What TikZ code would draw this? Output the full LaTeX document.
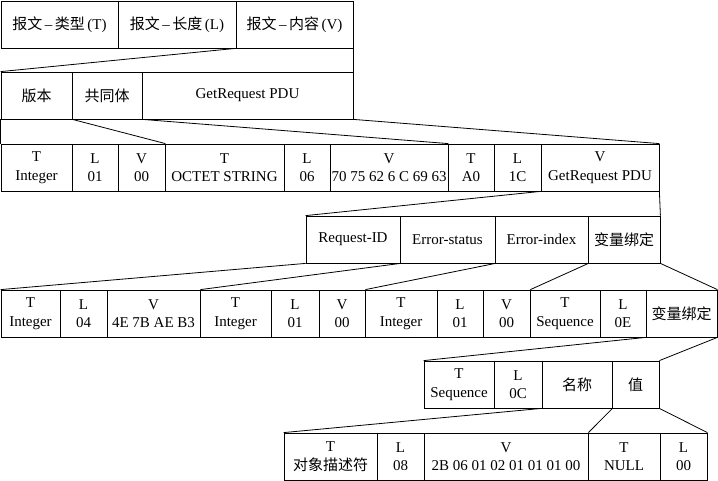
\documentclass[tikz,border=0pt]{standalone}
\usepackage{fontspec}
\setmainfont{Liberation Serif}
\newfontfamily\cjk{Noto Sans CJK SC}
\tikzset{
  cell/.style={draw, rectangle, inner sep=0pt, align=center,
    minimum height=47pt, font=\fontsize{15}{18.5}\selectfont},
  w/.style={minimum width=#1pt}
}
\begin{document}
\begin{tikzpicture}[x=1pt,y=-1pt,line width=0.8pt]
      \useasboundingbox (0,0) rectangle (718,481);
      \path
        (59.5,24.5) node[cell,w=117] (typ){{\cjk 报文}\,--\,{\cjk 类型}\,(T)}
        (177,24.5) node[cell,w=118] (len){{\cjk 报文}\,--\,{\cjk 长度}\,(L)}
        (294.5,24.5) node[cell,w=117] (val){{\cjk 报文}\,--\,{\cjk 内容}\,(V)}
        (36.5,95.5) node[cell,w=71] (ver){\cjk 版本}
        (107,95.5) node[cell,w=70] (com){\cjk 共同体}
        (247.5,95.5) node[cell,w=211] (pdu){GetRequest PDU}
        (36.5,167.5) node[cell,w=71] (t1){T\\Integer}
        (95,167.5) node[cell,w=46] (l1){L\\01}
        (141.5,167.5) node[cell,w=47] (v1){V\\00}
        (224.5,167.5) node[cell,w=119] (t2){T\\OCTET STRING}
        (307,167.5) node[cell,w=46] (l2){L\\06}
        (389,167.5) node[cell,w=118] (v2){V\\70 75 62 6 C 69 63}
        (471,167.5) node[cell,w=46] (t3){T\\A0}
        (517.5,167.5) node[cell,w=47] (l3){L\\1C}
        (600,167.5) node[cell,w=118] (v3){V\\GetRequest PDU}
        (353,239.5) node[cell,w=94] (rid){Request-ID}
        (447.5,239.5) node[cell,w=95] (est){Error-status}
        (541.5,239.5) node[cell,w=93] (eix){Error-index}
        (624,239.5) node[cell,w=72] (bind){\cjk 变量绑定}
        (30.5,313.5) node[cell,w=59] (t4){T\\Integer}
        (83.5,313.5) node[cell,w=47] (l4){L\\04}
        (153.5,313.5) node[cell,w=93] (v4){V\\4E 7B AE B3}
        (235.5,313.5) node[cell,w=71] (t5){T\\Integer}
        (295,313.5) node[cell,w=48] (l5){L\\01}
        (342,313.5) node[cell,w=46] (v5){V\\00}
        (401,313.5) node[cell,w=72] (t6){T\\Integer}
        (460,313.5) node[cell,w=46] (l6){L\\01}
        (506.5,313.5) node[cell,w=47] (v6){V\\00}
        (565,313.5) node[cell,w=70] (t7){T\\Sequence}
        (623,313.5) node[cell,w=46] (l7){L\\0E}
        (681.5,313.5) node[cell,w=71] (bind2){\cjk 变量绑定}
        (459,384.5) node[cell,w=70] (t8){T\\Sequence}
        (518,384.5) node[cell,w=48] (l8){L\\0C}
        (577,384.5) node[cell,w=70] (name){\cjk 名称}
        (635.5,384.5) node[cell,w=47] (value){\cjk 值}
        (330.5,456.5) node[cell,w=93] (t9){T\\{\cjk 对象描述符}}
        (400.5,456.5) node[cell,w=47] (l9){L\\08}
        (506,456.5) node[cell,w=164] (v9){V\\2B 06 01 02 01 01 01 00}
        (624,456.5) node[cell,w=72] (t10){T\\NULL}
        (683.5,456.5) node[cell,w=47] (l10){L\\00};
      \begin{scope}[-]
        \draw (val.south west) to (ver.north west);
        \draw (val.south east) to (pdu.north east);
        \draw (ver.south west) to (t1.north west);
        \draw (ver.south east) to (v1.north east);
        \draw (com.south east) to (v2.north east);
        \draw (pdu.south east) to (v3.north east);
        \draw (v3.south west) to (rid.north west);
        \draw (v3.south east) to (bind.north east);
        \draw (rid.south west) to (t4.north west);
        \draw (rid.south east) to (v4.north east);
        \draw (est.south east) to (v5.north east);
        \draw (eix.south east) to (v6.north east);
        \draw (bind.south east) to (bind2.north east);
        \draw (bind2.south west) to (t8.north west);
        \draw (bind2.south east) to (value.north east);
        \draw (name.south west) to (t9.north west);
        \draw (name.south east) to (v9.north east);
        \draw (value.south east) to (l10.north east);
      \end{scope}
    \end{tikzpicture}
\end{document}
